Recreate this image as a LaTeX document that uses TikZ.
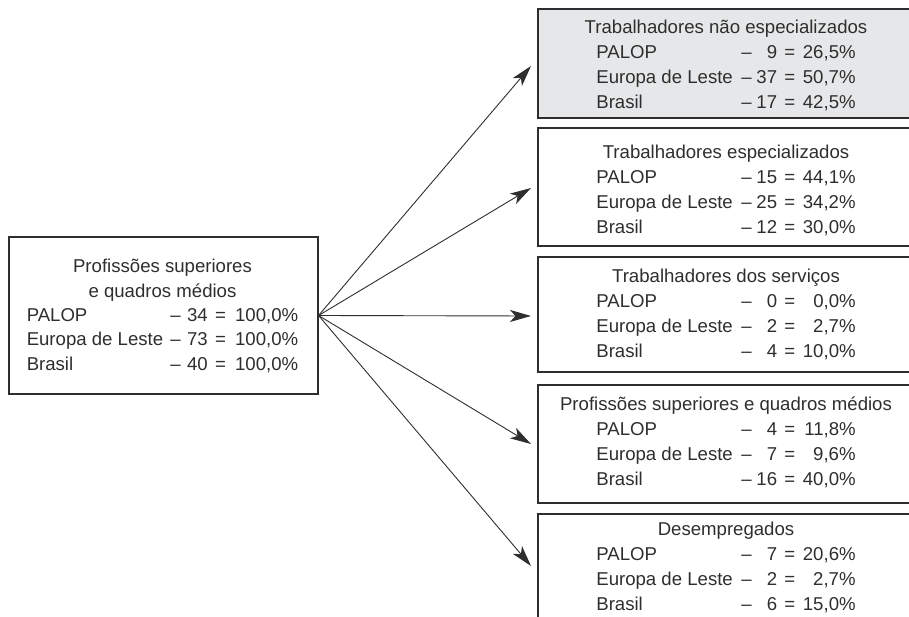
\documentclass[tikz,border=0pt]{standalone}
\usepackage{fontspec}
\setmainfont{Liberation Sans}
\usetikzlibrary{arrows.meta}
\definecolor{ink}{HTML}{2E2E2E}
\definecolor{boxgray}{HTML}{E6E7E8}
\newcommand{\rowR}[3]{\makebox[145pt][l]{#1}\makebox[10.4pt]{–}\makebox[25.4pt][r]{#2}\makebox[18pt][r]{=}\makebox[60.5pt][r]{#3}}
\newcommand{\rowL}[3]{\makebox[143pt][l]{#1}\makebox[11.6pt]{–}\makebox[26.4pt][r]{#2}\makebox[25.8pt]{=}\makebox[64.7pt][r]{#3}}
\tikzset{
  box/.style={draw=ink, line width=1.1pt, inner sep=0pt},
  rbox/.style={box, minimum width=376pt},
  txt/.style={text=ink, align=center, inner sep=0pt,
    font=\fontsize{18.6}{25}\selectfont},
  arr/.style={draw=ink, line width=0.9pt, -{Stealth[length=21pt, width=12pt, inset=5.5pt]}}
}
\begin{document}
\begin{tikzpicture}[x=1pt, y=-1pt]
\useasboundingbox (0,0) rectangle (909,617);
\clip (0,0) rectangle (909,617);

\node[box, minimum width=309pt, minimum height=157pt] (src) at (163.5,315.5) {};
\node[txt, font=\fontsize{18.6}{24.3}\selectfont] (srct) at (162.5,316)
  {Profissões superiores\\ e quadros médios\\
   \rowL{PALOP}{34}{100,0\%}\\
   \rowL{Europa de Leste}{73}{100,0\%}\\
   \rowL{Brasil}{40}{100,0\%}};

\node[rbox, fill=boxgray, minimum height=109pt] (b1) at (726,63.5) {};
\node[txt] (b1t) at (726,65.5)
  {Trabalhadores não especializados\\
   \rowR{PALOP}{9}{26,5\%}\\
   \rowR{Europa de Leste}{37}{50,7\%}\\
   \rowR{Brasil}{17}{42,5\%}};

\node[rbox, minimum height=118pt] (b2) at (726,187) {};
\node[txt] (b2t) at (726,190)
  {Trabalhadores especializados\\
   \rowR{PALOP}{15}{44,1\%}\\
   \rowR{Europa de Leste}{25}{34,2\%}\\
   \rowR{Brasil}{12}{30,0\%}};

\node[rbox, minimum height=115pt] (b3) at (726,314.5) {};
\node[txt] (b3t) at (726,314.5)
  {Trabalhadores dos serviços\\
   \rowR{PALOP}{0}{0,0\%}\\
   \rowR{Europa de Leste}{2}{2,7\%}\\
   \rowR{Brasil}{4}{10,0\%}};

\node[rbox, minimum height=118pt] (b4) at (726,444) {};
\node[txt] (b4t) at (726,442.5)
  {Profissões superiores e quadros médios\\
   \rowR{PALOP}{4}{11,8\%}\\
   \rowR{Europa de Leste}{7}{9,6\%}\\
   \rowR{Brasil}{16}{40,0\%}};

\node[rbox, minimum height=108pt] (b5) at (726,568) {};
\node[txt] (b5t) at (726,567.5)
  {Desempregados\\
   \rowR{PALOP}{7}{20,6\%}\\
   \rowR{Europa de Leste}{2}{2,7\%}\\
   \rowR{Brasil}{6}{15,0\%}};

\coordinate (t1) at (531,66);
\coordinate (t2) at (531,188);
\coordinate (t3) at (531,316);
\coordinate (t4) at (531,444);
\coordinate (t5) at (531,566);
\coordinate (o) at (src.east);

\foreach \t in {t1,t2,t3,t4,t5} \draw[arr] (o) -- (\t);
\end{tikzpicture}
\end{document}
